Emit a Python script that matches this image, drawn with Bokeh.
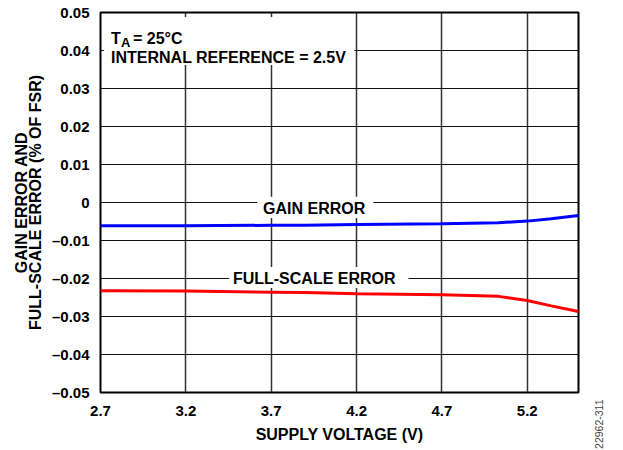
from bokeh.plotting import figure
from bokeh.layouts import row
from bokeh.models import Range1d, FixedTicker, Label, BoxAnnotation
from bokeh.embed import file_html
from bokeh.resources import INLINE

# Data
voltage = [2.7, 3.2, 3.7, 3.9, 4.2, 4.7, 5.03, 5.2, 5.34, 5.5]
gain_error = [-0.0061, -0.0061, -0.0060, -0.0060, -0.0058, -0.0056, -0.0053, -0.0049, -0.0043, -0.0034]
full_scale_error = [-0.0232, -0.0233, -0.0236, -0.0237, -0.0240, -0.0243, -0.0247, -0.0258, -0.0272, -0.0287]

x_ticks = [2.7, 3.2, 3.7, 4.2, 4.7, 5.2]
x_tick_labels = ["2.7", "3.2", "3.7", "4.2", "4.7", "5.2"]
y_ticks = [0.05, 0.04, 0.03, 0.02, 0.01, 0.0, -0.01, -0.02, -0.03, -0.04, -0.05]
y_tick_labels = ["0.05", "0.04", "0.03", "0.02", "0.01", "0",
                 "\u20130.01", "\u20130.02", "\u20130.03", "\u20130.04", "\u20130.05"]
figure_code = "22962-311"

FONT = "Liberation Sans"
FH = 380   # frame height in px
ROT = 1.5707963

p = figure(frame_width=478, frame_height=FH, output_backend="svg", toolbar_location=None,
           x_range=Range1d(2.7, 5.5), y_range=Range1d(-0.05, 0.05),
           min_border_left=51, min_border_right=5, min_border_top=12, min_border_bottom=55)

p.background_fill_color = "white"
p.border_fill_color = "white"
p.outline_line_color = "black"
p.outline_line_width = 2

p.xaxis.ticker = FixedTicker(ticks=x_ticks)
p.yaxis.ticker = FixedTicker(ticks=y_ticks)
p.xaxis.major_label_overrides = {t: l for t, l in zip(x_ticks, x_tick_labels)}
p.yaxis.major_label_overrides = {t: l for t, l in zip(y_ticks, y_tick_labels)}

for ax in (p.xaxis, p.yaxis):
    ax.axis_line_color = None
    ax.major_tick_line_color = None
    ax.minor_tick_line_color = None
    ax.major_label_text_font = FONT
    ax.major_label_text_font_style = "bold"
    ax.major_label_text_font_size = "15px"
    ax.major_label_text_color = "black"
    ax.axis_label_text_font = FONT
    ax.axis_label_text_font_style = "bold"
    ax.axis_label_text_font_size = "16px"
    ax.axis_label_text_color = "black"

p.xaxis.major_label_standoff = 7
p.yaxis.major_label_standoff = 5
p.xaxis.axis_label = "SUPPLY VOLTAGE (V)"
p.xaxis.axis_label_standoff = 7

p.xgrid.ticker = FixedTicker(ticks=x_ticks)
p.ygrid.ticker = FixedTicker(ticks=y_ticks)
p.xgrid.grid_line_color = "#333333"
p.xgrid.grid_line_width = 1.5
p.ygrid.grid_line_color = "#111111"
p.ygrid.grid_line_width = 1

p.line(voltage, gain_error, line_color="#0000FF", line_width=3)
p.line(voltage, full_scale_error, line_color="#FF0000", line_width=3)

# White boxes behind annotations
p.add_layout(BoxAnnotation(left=2.72, right=4.187, bottom=0.0362, top=0.0488,
                           fill_color="white", fill_alpha=1, line_color=None))
p.add_layout(BoxAnnotation(left=3.618, right=4.298, bottom=-0.0041, top=0.0015,
                           fill_color="white", fill_alpha=1, line_color=None))
p.add_layout(BoxAnnotation(left=3.454, right=4.504, bottom=-0.0225, top=-0.0170,
                           fill_color="white", fill_alpha=1, line_color=None))

def lab(fig, x, y, text, size="16px", align="left", baseline="alphabetic", style="bold",
        color="black", angle=0):
    fig.add_layout(Label(x=x, y=y, text=text, text_font=FONT, text_font_style=style,
                         text_font_size=size, text_align=align, text_baseline=baseline,
                         text_color=color, angle=angle))

lab(p, 2.7616, 0.04303, "T")
lab(p, 2.8202, 0.04205, "A", size="13px")
lab(p, 2.8906, 0.04303, "= 25\u00b0C")
lab(p, 2.7616, 0.03821, "INTERNAL REFERENCE = 2.5V")

lab(p, 3.952, -0.0016, "GAIN ERROR", align="center", baseline="middle")
lab(p, 3.952, -0.0200, "FULL-SCALE ERROR", align="center", baseline="middle")

def side_fig(w, x_axis=None):
    f = figure(frame_width=w, frame_height=FH, x_range=Range1d(0, w), y_range=Range1d(0, FH),
               min_border=0, min_border_left=0, min_border_right=0,
               min_border_top=12, min_border_bottom=55,
               x_axis_location=x_axis, y_axis_location=None,
               toolbar_location=None, output_backend="svg")
    f.outline_line_color = None
    f.grid.visible = False
    f.background_fill_color = "white"
    f.border_fill_color = "white"
    return f

# Left strip: two-line Y axis title (y measured in px up from the frame bottom)
p0 = side_fig(48)
lab(p0, 21, 190, "GAIN ERROR AND", align="center", baseline="middle", angle=ROT)
lab(p0, 35, 190, "FULL-SCALE ERROR (% OF FSR)", align="center", baseline="middle", angle=ROT)

# Right strip: figure code, drawn as a rotated tick label below the frame
p2 = side_fig(34, x_axis="below")
p2.xaxis.ticker = FixedTicker(ticks=[15])
p2.xaxis.major_label_overrides = {15: figure_code}
p2.xaxis.major_label_orientation = ROT
p2.xaxis.major_label_standoff = 1
p2.xaxis.major_label_text_font = FONT
p2.xaxis.major_label_text_font_style = "normal"
p2.xaxis.major_label_text_font_size = "10.5px"
p2.xaxis.major_label_text_color = "#444444"
p2.xaxis.axis_line_color = None
p2.xaxis.major_tick_line_color = None
p2.xaxis.minor_tick_line_color = None

layout = row(p0, p, p2)
open("out.html", "w").write(file_html(layout, INLINE))
